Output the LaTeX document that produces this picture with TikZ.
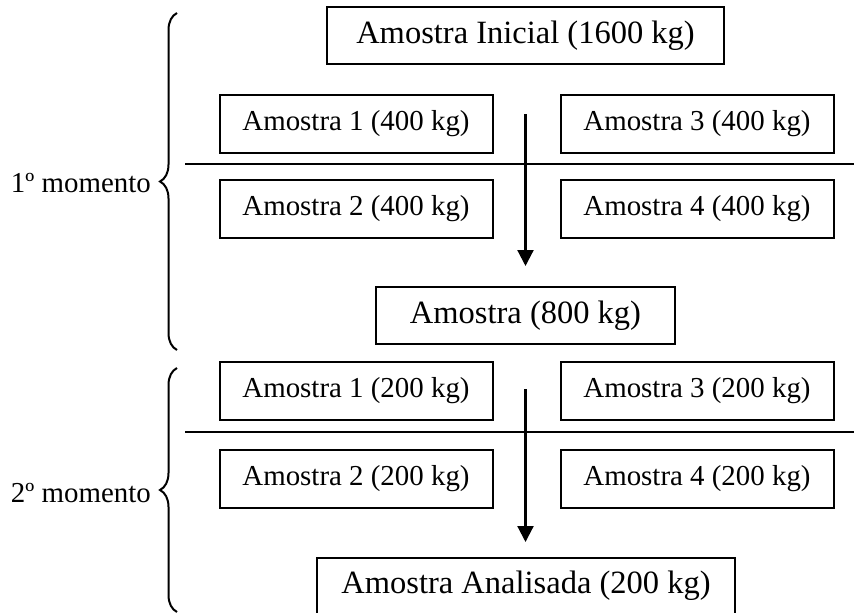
\documentclass[tikz,border=0pt]{standalone}
\usepackage{fontspec}
\setmainfont{Liberation Serif}
\usetikzlibrary{positioning,arrows.meta,decorations.pathreplacing}

\begin{document}
\begin{tikzpicture}[x=1pt,y=-1pt]

	\useasboundingbox (0,0) rectangle (854,613);

	\tikzset{caixa/.style={draw,line width=2pt,inner sep=0pt,minimum width=273,minimum height=58,font=\fontsize{28.9}{32}\selectfont}}
	\tikzset{caixagrande/.style={caixa,minimum height=57,font=\fontsize{32.5}{36}\selectfont}}
	\tikzset{chave/.style={decorate,decoration={brace,amplitude=17pt},line width=2pt}}
	\tikzset{seta/.style={line width=2.2pt,-{Triangle[length=16pt,width=16pt]}}}
	\tikzset{rotulo/.style={anchor=east,inner sep=0pt,font=\fontsize{28.9}{32}\selectfont}}

	% 1º momento

	\node[caixagrande,minimum width=397] (inicial) at (525.5,35.5) {Amostra Inicial (1600 kg)};

	\foreach \i/\x/\y in {1/356/124,2/356/209,3/697/124,4/697/209} {
		\node[caixa] (p\i) at (\x,\y) {Amostra \i\ (400 kg)};
	}

	\draw[line width=1.8pt] (185,164) -- (854,164);

	\coordinate (s1) at (525.5,114); \coordinate (e1) at (525.5,266);
	\draw[seta] (s1) -- (e1);

	\node[caixagrande,minimum width=299] (metade) at (525.5,315.5) {Amostra (800 kg)};

	\draw[chave] (177,350) -- (177,13);
	\node[rotulo] (m1) at (151,183) {1º momento};

	% 2º momento

	\foreach \i/\x/\y in {1/356/390.5,2/356/478.5,3/697/390.5,4/697/478.5} {
		\node[caixa] (q\i) at (\x,\y) {Amostra \i\ (200 kg)};
	}

	\draw[line width=1.8pt] (185,432) -- (854,432);

	\coordinate (s2) at (525.5,389); \coordinate (e2) at (525.5,542);
	\draw[seta] (s2) -- (e2);

	\node[caixagrande,minimum width=418] (final) at (526,586) {Amostra Analisada (200 kg)};

	\draw[chave] (177,612) -- (177,368);
	\node[rotulo] (m2) at (151,493) {2º momento};

\end{tikzpicture}
\end{document}
